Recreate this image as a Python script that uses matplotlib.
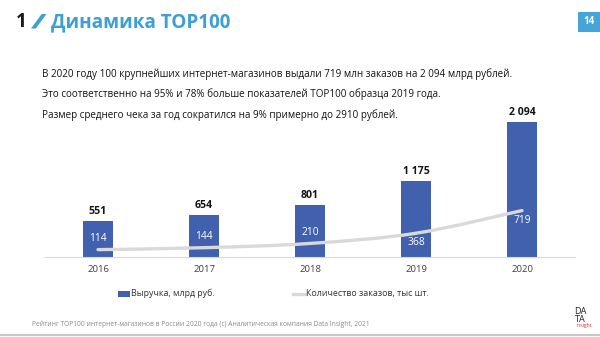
import matplotlib
matplotlib.use("Agg")
import matplotlib.pyplot as plt
from matplotlib.path import Path
from matplotlib.patches import PathPatch, Polygon, Rectangle
from matplotlib.lines import Line2D

# --- data -------------------------------------------------------------
years = ["2016", "2017", "2018", "2019", "2020"]
revenue = [551, 654, 801, 1175, 2094]          # млрд руб.
revenue_labels = ["551", "654", "801", "1 175", "2 094"]
orders = [114, 144, 210, 368, 719]             # заказы
order_label_side = ["above", "above", "above", "below", "below"]

title = "Динамика TOP100"
body_lines = [
    "В 2020 году 100 крупнейших интернет-магазинов выдали 719 млн заказов на 2 094 млрд рублей.",
    "Это соответственно на 95% и 78% больше показателей TOP100 образца 2019 года.",
    "Размер среднего чека за год сократился на 9% примерно до 2910 рублей.",
]
legend_labels = ["Выручка, млрд руб.", "Количество заказов, тыс шт."]
footer = ("Рейтинг TOP100 интернет-магазинов в России 2020 года (c) "
          "Аналитическая компания Data Insight, 2021")

# --- style ------------------------------------------------------------
plt.rcParams["font.family"] = ["Open Sans", "DejaVu Sans"]
BAR = "#4161AE"
LINE = "#D9D9D9"
ACCENT = "#3D9FD3"
W, H = 600, 337

fig = plt.figure(figsize=(6.0, 3.37), dpi=100)
fig.patch.set_facecolor("white")


def fx(px):
    return px / W


def fy(py):
    return 1 - py / H


# header
fig.text(fx(16), fy(22), "1", fontsize=13.5, fontweight="bold",
         color="#1a1a1a", va="center", ha="left")
fig.patches.append(Polygon([(fx(31), fy(28.5)), (fx(35.8), fy(28.5)),
                            (fx(46.5), fy(14)), (fx(41.7), fy(14))],
                           closed=True, transform=fig.transFigure,
                           facecolor=ACCENT, edgecolor="none"))
fig.text(fx(51), fy(22), title, fontsize=13.6, fontweight="bold",
         color=ACCENT, va="center", ha="left")

# page number badge
fig.patches.append(Rectangle((fx(578), fy(32)), fx(22), 20 / H,
                             transform=fig.transFigure,
                             facecolor="#45A5D8", edgecolor="none"))
fig.text(fx(588.5), fy(22), "14", fontsize=7, fontweight="bold",
         color="white", va="center", ha="center")

# body text
for i, line in enumerate(body_lines):
    fig.text(fx(42), fy(74 + 20.5 * i), line, fontsize=7.15,
             color="#141414", va="center", ha="left")

# --- chart ------------------------------------------------------------
ax = fig.add_axes([fx(45), fy(257), fx(530), 157 / H])
ax.set_xlim(-0.5, len(years) - 0.5)
ax.set_ylim(0, 2430)
x = list(range(len(years)))

ax.bar(x, revenue, width=0.29, color=BAR, zorder=2)
for xi, v, lab in zip(x, revenue, revenue_labels):
    ax.annotate(lab, (xi, v), xytext=(0, 6.8), textcoords="offset points",
                ha="center", va="center", fontsize=7.6, fontweight="bold",
                color="#141414")

# smoothed orders curve (Catmull-Rom through the points)
pts = list(zip(x, orders))
verts = [pts[0]]
codes = [Path.MOVETO]
n = len(pts)
for i in range(n - 1):
    p0 = pts[max(i - 1, 0)]
    p1 = pts[i]
    p2 = pts[i + 1]
    p3 = pts[min(i + 2, n - 1)]
    c1 = (p1[0] + (p2[0] - p0[0]) / 6, p1[1] + (p2[1] - p0[1]) / 6)
    c2 = (p2[0] - (p3[0] - p1[0]) / 6, p2[1] - (p3[1] - p1[1]) / 6)
    verts += [c1, c2, p2]
    codes += [Path.CURVE4] * 3
ax.add_patch(PathPatch(Path(verts, codes), facecolor="none",
                       edgecolor=LINE, lw=2.4, capstyle="round", zorder=3))

for xi, v, side in zip(x, orders, order_label_side):
    dy = 8.2 if side == "above" else -7
    ax.annotate(str(v), (xi, v), xytext=(0, dy), textcoords="offset points",
                ha="center", va="center", fontsize=7.4, color="white",
                zorder=4)

ax.set_xticks(x)
ax.set_xticklabels(years, fontsize=6.8, color="#404040")
ax.tick_params(axis="x", length=0, pad=6)
ax.set_yticks([])
for s in ("top", "left", "right"):
    ax.spines[s].set_visible(False)
ax.spines["bottom"].set_color("#D9D9D9")
ax.spines["bottom"].set_linewidth(0.8)
ax.set_facecolor("none")

# legend
fig.patches.append(Rectangle((fx(118), fy(296.5)), fx(12), 6 / H,
                             transform=fig.transFigure,
                             facecolor=BAR, edgecolor="none"))
fig.text(fx(131), fy(293.5), legend_labels[0], fontsize=6.4,
         color="#333333", va="center", ha="left")
fig.lines.append(Line2D([fx(293), fx(305)], [fy(293.5), fy(293.5)],
                        transform=fig.transFigure, color=LINE, lw=2.4))
fig.text(fx(306), fy(293.5), legend_labels[1], fontsize=6.4,
         color="#333333", va="center", ha="left")

# footer
fig.text(fx(32), fy(324), footer, fontsize=4.75, color="#8a8a8a",
         va="center", ha="left")
fig.lines.append(Line2D([0, 1], [fy(334.5), fy(334.5)],
                        transform=fig.transFigure, color="#C8C8C8", lw=1.6))

# logo
fig.text(fx(580), fy(311.5), "DA", fontsize=6.6, color="#222222",
         va="center", ha="center")
fig.text(fx(580), fy(319), "TA", fontsize=6.6, color="#222222",
         va="center", ha="center")
fig.text(fx(584), fy(326), "insight", fontsize=3.6, color="#D0302C",
         va="center", ha="center")

fig.savefig("out.png", dpi=100, facecolor="white")
